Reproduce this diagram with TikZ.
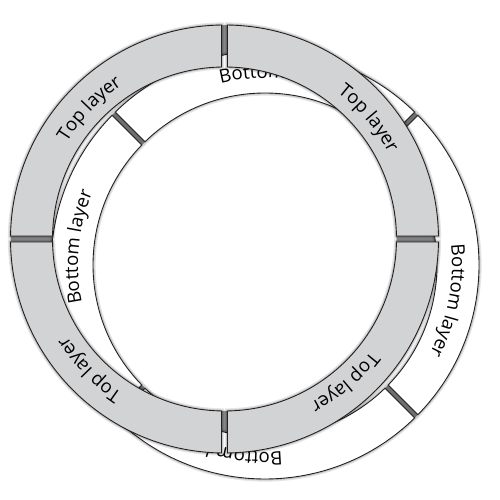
\documentclass[tikz,border=0pt]{standalone}
\usepackage{fontspec}
\setmainfont{Open Sans}
\usetikzlibrary{calc,decorations.text}
\definecolor{ringgray}{HTML}{D1D3D4}
\definecolor{gapgray}{HTML}{8A8A8A}
\definecolor{inkline}{HTML}{231F20}
\newcommand{\RadOut}{4.28}
\newcommand{\RadIn}{3.44}
\newcommand{\LabelFont}{\fontsize{10.6}{12}\selectfont}
\newcommand{\RingSeg}[5]{%
  \path[#5] ($(#1)+({#2+asin(#4/\RadOut)}:\RadOut)$)
    arc[start angle={#2+asin(#4/\RadOut)}, end angle={#3-asin(#4/\RadOut)}, radius=\RadOut cm]
    -- ($(#1)+({#3-asin(#4/\RadIn)}:\RadIn)$)
    arc[start angle={#3-asin(#4/\RadIn)}, end angle={#2+asin(#4/\RadIn)}, radius=\RadIn cm]
    -- cycle;}
\newcommand{\ArcLabel}[4]{%
  \path[decorate, decoration={text along path, text align=center, text color=black, text={|\LabelFont|#4}}]
    ($(#1)+({#2+40}:#3)$) arc[start angle={#2+40}, end angle={#2-40}, radius=#3 cm];}
\tikzset{
  topseg/.style={fill=ringgray, draw=inkline, line width=0.5pt},
  botseg/.style={fill=white, draw=inkline, line width=0.5pt},
  gapfill/.style={fill=gapgray, even odd rule},
  haloa/.style={draw=black, draw opacity=0.10, line width=3pt},
  halob/.style={draw=black, draw opacity=0.14, line width=1.6pt},
}
\begin{document}
\begin{tikzpicture}
\useasboundingbox (0,0) rectangle (10,10);
\coordinate (G) at (4.49,5.22);
\coordinate (W) at (5.30,4.70);
% gap backgrounds
\path[gapfill] (G) circle[radius=\RadOut cm] (G) circle[radius=\RadIn cm];
\path[gapfill] (W) circle[radius=\RadOut cm] (W) circle[radius=\RadIn cm];
% bottom layer
\foreach \hs in {haloa,halob}{
  \RingSeg{W}{45}{135}{0.045}{\hs}
  \RingSeg{W}{135}{225}{0.045}{\hs}
  \RingSeg{W}{225}{315}{0.045}{\hs}
  \RingSeg{W}{-45}{45}{0.045}{\hs}
}
\RingSeg{W}{45}{135}{0.045}{botseg}
\RingSeg{W}{135}{225}{0.045}{botseg}
\RingSeg{W}{225}{315}{0.045}{botseg}
\RingSeg{W}{-45}{45}{0.045}{botseg}
\ArcLabel{W}{86.5}{3.74}{Bottom layer}
\ArcLabel{W}{-11}{3.74}{Bottom layer}
\ArcLabel{W}{258}{3.74}{Bottom layer}
\ArcLabel{W}{174.5}{3.74}{Bottom layer}
% top layer
\foreach \hs in {haloa,halob}{
  \RingSeg{G}{0}{90}{0.06}{\hs}
  \RingSeg{G}{90}{180}{0.06}{\hs}
  \RingSeg{G}{180}{270}{0.06}{\hs}
  \RingSeg{G}{270}{360}{0.06}{\hs}
}
\RingSeg{G}{0}{90}{0.06}{topseg}
\RingSeg{G}{90}{180}{0.06}{topseg}
\RingSeg{G}{180}{270}{0.06}{topseg}
\RingSeg{G}{270}{360}{0.06}{topseg}
\ArcLabel{G}{136}{3.70}{Top layer}
\ArcLabel{G}{40}{3.70}{Top layer}
\ArcLabel{G}{224}{3.70}{Top layer}
\ArcLabel{G}{310}{3.70}{Top layer}
\end{tikzpicture}
\end{document}
